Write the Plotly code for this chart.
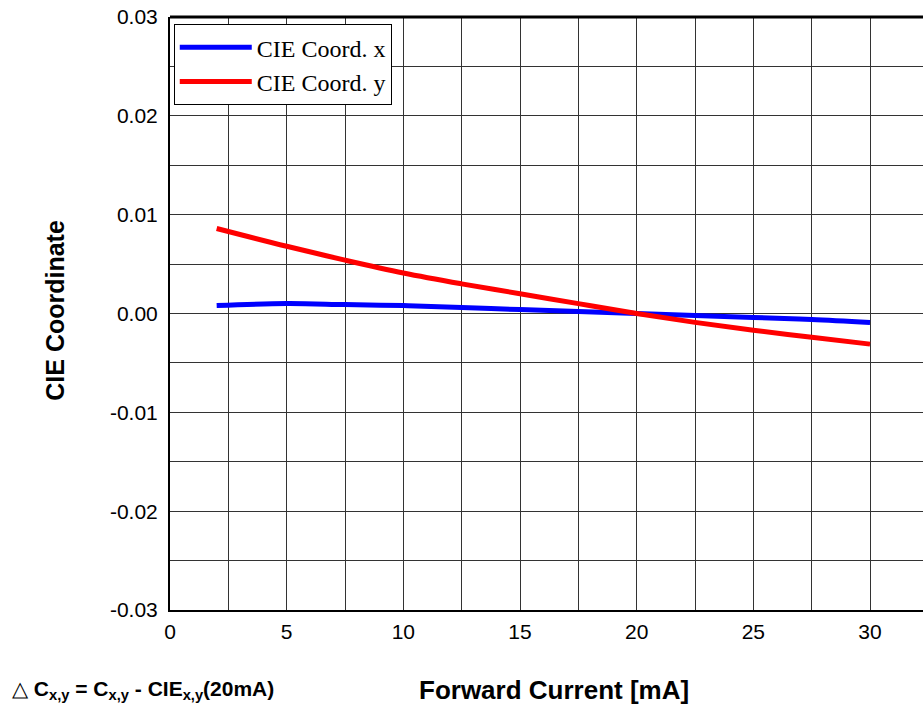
import plotly.graph_objects as go

current_ma = [2, 5, 7.5, 10, 12.5, 15, 17.5, 20, 22.5, 25, 27.5, 30]
cie_x = [0.0008, 0.0010, 0.0009, 0.0008, 0.0006, 0.0004, 0.0002, 0.0, -0.0002, -0.0004, -0.0006, -0.0009]
cie_y = [0.0086, 0.0068, 0.0054, 0.0041, 0.0030, 0.0020, 0.0010, 0.0, -0.0009, -0.0017, -0.0024, -0.0031]
x_ticks = [0, 5, 10, 15, 20, 25, 30]
y_ticks = [-0.03, -0.02, -0.01, 0.0, 0.01, 0.02, 0.03]
y_tick_text = ["-0.03", "-0.02", "-0.01", "0.00", "0.01", "0.02", "0.03"]

fig = go.Figure()
fig.add_trace(go.Scatter(x=current_ma, y=cie_x, mode="lines", name="CIE Coord. x",
                         line=dict(color="#0000ff", width=5, shape="spline")))
fig.add_trace(go.Scatter(x=current_ma, y=cie_y, mode="lines", name="CIE Coord. y",
                         line=dict(color="#ff0000", width=5, shape="spline")))

grid_col = "#333333"
fig.update_layout(
    width=923, height=709,
    margin=dict(l=170, r=0, t=17, b=99),
    plot_bgcolor="white", paper_bgcolor="white",
    font=dict(family="Liberation Sans, Arial, sans-serif", size=21, color="black"),
    showlegend=True,
    legend=dict(x=0.005, y=0.988, xanchor="left", yanchor="top",
                bgcolor="white", bordercolor="black", borderwidth=1,
                font=dict(family="Liberation Serif, Times New Roman, serif", size=24),
                tracegroupgap=0, itemwidth=72),
    xaxis=dict(range=[0, 32.27], tickvals=x_ticks, ticktext=[str(v) for v in x_ticks],
               showgrid=True, gridcolor=grid_col, gridwidth=1,
               minor=dict(dtick=2.5, tick0=0, showgrid=True, gridcolor=grid_col, gridwidth=1),
               showline=True, linecolor="black", linewidth=2, ticks="outside", ticklen=2,
               tickcolor="white", zeroline=False, fixedrange=True),
    yaxis=dict(range=[-0.03, 0.03], tickvals=y_ticks, ticktext=y_tick_text,
               showgrid=True, gridcolor=grid_col, gridwidth=1,
               minor=dict(dtick=0.005, tick0=0, showgrid=True, gridcolor=grid_col, gridwidth=1),
               showline=True, linecolor="black", linewidth=2, ticks="outside", ticklen=6,
               tickcolor="white", zeroline=False, fixedrange=True),
    shapes=[dict(type="line", xref="paper", yref="paper", x0=0, x1=1, y0=1, y1=1,
                 line=dict(color="black", width=3))],
    annotations=[
        dict(text="<b>CIE Coordinate</b>", xref="paper", yref="paper", x=-0.153, y=0.506,
             textangle=-90, showarrow=False, font=dict(size=25),
             xanchor="center", yanchor="middle"),
        dict(text="<b>Forward Current [mA]</b>", xref="paper", yref="paper", x=0.51, y=-0.135,
             showarrow=False, font=dict(size=26), xanchor="center", yanchor="middle"),
        dict(text="△ <b>C<sub>x,y</sub> = C<sub>x,y</sub> - CIE<sub>x,y</sub>(20mA)</b>",
             xref="paper", yref="paper", x=-0.213, y=-0.135, showarrow=False,
             font=dict(size=21), xanchor="left", yanchor="middle"),
    ],
)

fig.write_html("out.html", config={"displayModeBar": False},
               post_script="document.body.style.margin='0';")
